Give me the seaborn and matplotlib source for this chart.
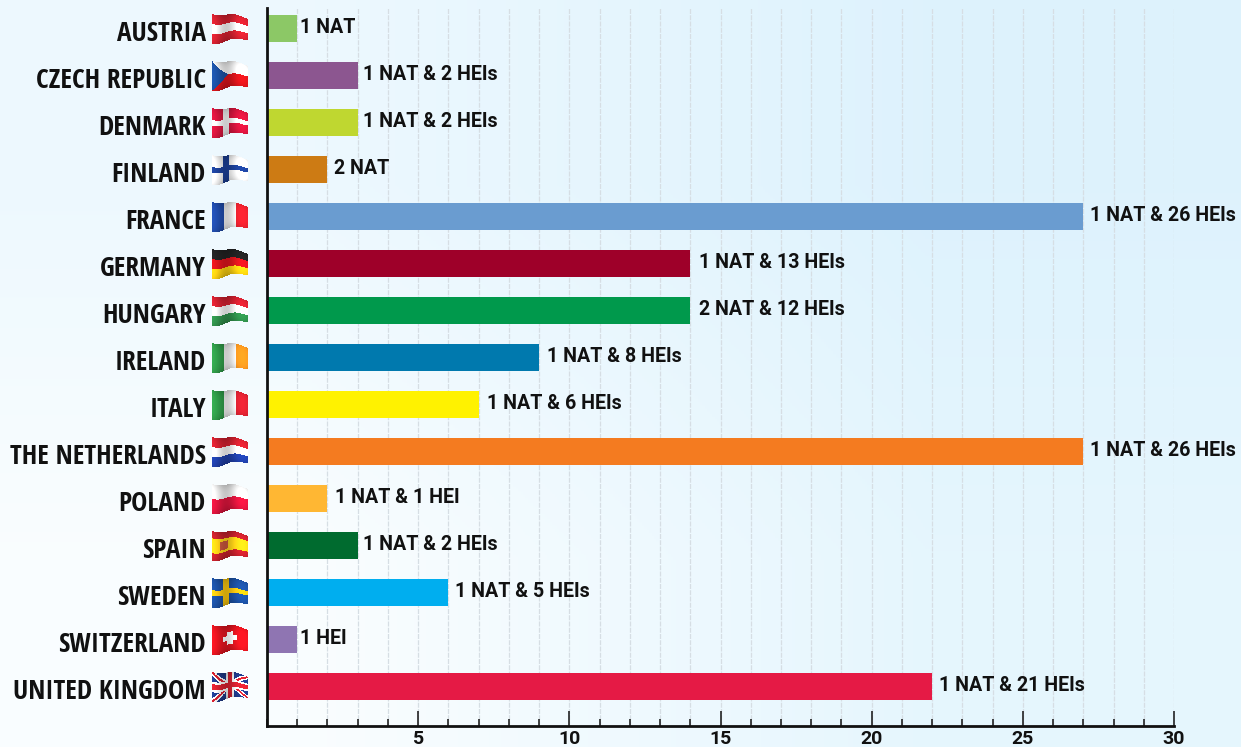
import numpy as np
import pandas as pd
import seaborn as sns
import matplotlib.pyplot as plt
from matplotlib.ticker import MultipleLocator
from matplotlib.transforms import ScaledTranslation

countries = ['AUSTRIA', 'CZECH REPUBLIC', 'DENMARK', 'FINLAND', 'FRANCE', 'GERMANY', 'HUNGARY', 'IRELAND',
             'ITALY', 'THE NETHERLANDS', 'POLAND', 'SPAIN', 'SWEDEN', 'SWITZERLAND', 'UNITED KINGDOM']
values = [1, 3, 3, 2, 27, 14, 14, 9, 7, 27, 2, 3, 6, 1, 22]
bar_labels = ['1 NAT', '1 NAT & 2 HEIs', '1 NAT & 2 HEIs', '2 NAT', '1 NAT & 26 HEIs', '1 NAT & 13 HEIs',
              '2 NAT & 12 HEIs', '1 NAT & 8 HEIs', '1 NAT & 6 HEIs', '1 NAT & 26 HEIs', '1 NAT & 1 HEI',
              '1 NAT & 2 HEIs', '1 NAT & 5 HEIs', '1 HEI', '1 NAT & 21 HEIs']
bar_colors = ['#8CC866', '#8C5690', '#BFD730', '#CD7B14', '#6A9CD0', '#9E0029', '#00994C', '#0079AE',
              '#FFF200', '#F47B20', '#FFB733', '#006B2F', '#00AEEF', '#8F75B2', '#E51A45']
# gap between bar end and its label, in pixels
label_gaps = [3, 5, 5, 7, 7, 9, 9, 8, 8, 7, 8, 5, 7, 3, 7]

W, H = 1241, 747
sns.set_style('white')
plt.rcParams['font.family'] = ['Roboto', 'DejaVu Sans']

df = pd.DataFrame({'country': countries, 'value': values})

fig = plt.figure(figsize=(W / 100, H / 100), dpi=100)

# Background gradient
bg = fig.add_axes([0, 0, 1, 1], zorder=-1)
grad = np.array([[[0.93, 0.975, 0.998], [0.87, 0.95, 0.992]],
                 [[0.98, 0.993, 1.0], [0.90, 0.965, 0.995]]])
bg.imshow(grad, aspect='auto', interpolation='bilinear', extent=[0, 1, 0, 1])
bg.axis('off')

ax = fig.add_axes([267 / W, 1 - 726 / H, (1174 - 267) / W, (726 - 8) / H])
ax.patch.set_alpha(0)
sns.barplot(data=df, x='value', y='country', hue='country', palette=bar_colors, orient='h',
            width=0.575, saturation=1, legend=False, linewidth=0, ax=ax, zorder=3)
ax.set_xlim(0, 30)
ax.set_ylim(14.84, -0.436)
ax.set_xlabel('')
ax.set_ylabel('')

# Axes and ticks
for side in ['top', 'right']:
    ax.spines[side].set_visible(False)
for side in ['left', 'bottom']:
    ax.spines[side].set_visible(True)
    ax.spines[side].set_linewidth(2)
    ax.spines[side].set_color('#111111')
    ax.spines[side].set_zorder(5)
ax.xaxis.set_major_locator(MultipleLocator(5))
ax.xaxis.set_minor_locator(MultipleLocator(1))
ax.grid(True, which='both', axis='x', color='#d6dee4', linestyle=(0, (4, 1)), linewidth=0.9, zorder=1)
ax.grid(False, axis='y')
ax.set_axisbelow(True)
ax.tick_params(axis='x', which='major', direction='in', length=11, width=1.1, color='#111111', bottom=True,
               pad=2.8, labelsize=14)
ax.tick_params(axis='x', which='minor', direction='in', length=5, width=1.1, color='#111111', bottom=True)
ax.tick_params(axis='y', length=0, pad=44)
ax.set_xticks([5, 10, 15, 20, 25, 30])
for t in ax.get_xticklabels():
    t.set_fontweight('bold')
    t.set_color('#111111')
down = ScaledTranslation(0, -1.5 / 72, fig.dpi_scale_trans)
for t in ax.get_yticklabels():
    t.set_fontfamily(['Open Sans Condensed', 'PT Sans Narrow', 'Roboto'])
    t.set_fontweight('bold')
    t.set_fontsize(19.6)
    t.set_color('#111111')
    t.set_transform(t.get_transform() + down)

# Bar labels
for i, (v, lab) in enumerate(zip(values, bar_labels)):
    ax.annotate(lab, (v, i), xytext=(label_gaps[i] * 0.72, 0.8), textcoords='offset points',
                ha='left', va='center', fontsize=14.1, fontweight='bold', color='#111111', zorder=6,
                annotation_clip=False)


# Flags, drawn as small warped colour meshes
def rgb(h):
    return np.array([int(h[i:i + 2], 16) / 255 for i in (1, 3, 5)])


def stripes_h(u, v, cols):
    idx = np.clip((v * len(cols)).astype(int), 0, len(cols) - 1)
    return np.array([rgb(c) for c in cols])[idx]


def stripes_v(u, v, cols):
    idx = np.clip((u * len(cols)).astype(int), 0, len(cols) - 1)
    return np.array([rgb(c) for c in cols])[idx]


def nordic(u, v, base, fg):
    img = np.ones(u.shape + (3,)) * rgb(base)
    img[(np.abs(u - 0.38) < 0.08) | (np.abs(v - 0.5) < 0.1)] = rgb(fg)
    return img


def flag_czech(u, v):
    img = stripes_h(u, v, ['#F2F2F2', '#D7141A'])
    img[u < 0.45 * (1 - np.abs(2 * v - 1))] = rgb('#1B4FA0')
    return img


def flag_swiss(u, v):
    img = np.ones(u.shape + (3,)) * rgb('#E3141F')
    a, b = np.abs(u - 0.5), np.abs(v - 0.5)
    img[((a < 0.19) & (b < 0.09)) | ((a < 0.07) & (b < 0.24))] = rgb('#FFFFFF')
    return img


def flag_spain(u, v):
    img = stripes_h(u, v, ['#C8202C', '#FCD116', '#FCD116', '#C8202C'])
    img[(np.abs(u - 0.33) < 0.11) & (np.abs(v - 0.5) < 0.16)] = rgb('#C4553A')
    return img


def flag_uk(u, v):
    img = np.ones(u.shape + (3,)) * rgb('#1F3A8A')
    d1, d2 = np.abs(v - u), np.abs(v - (1 - u))
    img[(d1 < 0.11) | (d2 < 0.11)] = rgb('#F2F2F2')
    img[(d1 < 0.045) | (d2 < 0.045)] = rgb('#D3202F')
    img[(np.abs(u - 0.5) < 0.11) | (np.abs(v - 0.5) < 0.18)] = rgb('#F2F2F2')
    img[(np.abs(u - 0.5) < 0.06) | (np.abs(v - 0.5) < 0.1)] = rgb('#D3202F')
    return img


flags = [
    lambda u, v: stripes_h(u, v, ['#D3202F', '#F2F2F2', '#D3202F']),
    flag_czech,
    lambda u, v: nordic(u, v, '#D3143C', '#F2F2F2'),
    lambda u, v: nordic(u, v, '#F2F2F2', '#1B3F96'),
    lambda u, v: stripes_v(u, v, ['#1F4AA8', '#F2F2F2', '#E0202C']),
    lambda u, v: stripes_h(u, v, ['#222222', '#D8141C', '#F8CE10']),
    lambda u, v: stripes_h(u, v, ['#D3202F', '#F2F2F2', '#2F8F4A']),
    lambda u, v: stripes_v(u, v, ['#2F9A48', '#F2F2F2', '#F0921E']),
    lambda u, v: stripes_v(u, v, ['#2F9A48', '#F2F2F2', '#D3202F']),
    lambda u, v: stripes_h(u, v, ['#D3202F', '#F2F2F2', '#1F3FA8']),
    lambda u, v: stripes_h(u, v, ['#EDEDED', '#DC143C']),
    flag_spain,
    lambda u, v: nordic(u, v, '#1B4FA0', '#F6C40E'),
    flag_swiss,
    flag_uk,
]

fl = fig.add_axes([0, 0, 1, 1], zorder=10)
fl.set_xlim(0, W)
fl.set_ylim(H, 0)
fl.axis('off')
fig.canvas.draw()
ue, ve = np.meshgrid(np.linspace(0, 1, 109), np.linspace(0, 1, 91))
uc, vc = (ue[:-1, :-1] + ue[1:, 1:]) / 2, (ve[:-1, :-1] + ve[1:, 1:]) / 2
for i, draw in enumerate(flags):
    cy = H - ax.transData.transform((0, i))[1]
    X = 212 + 36 * ue
    Y = cy + (ve - 0.5) * (30 - 9 * ue) + 1.6 * np.sin(2 * np.pi * 1.1 * ue + 0.5) - 0.5
    shade = 1 + 0.16 * np.sin(2 * np.pi * 1.1 * uc + 2.0) - 0.12 * (np.abs(2 * vc - 1) ** 3)
    img = np.clip(draw(uc, vc) * shade[..., None], 0, 1)
    fl.pcolormesh(X, Y, img, shading='flat')

plt.savefig('out.png', dpi=100)
